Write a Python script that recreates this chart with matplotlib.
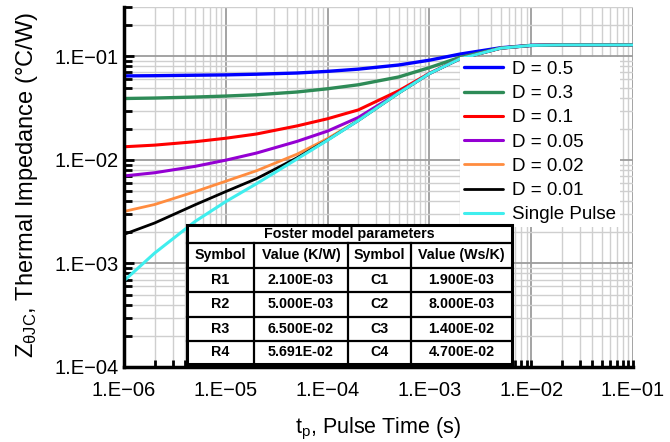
import numpy as np
import matplotlib
matplotlib.use("Agg")
import matplotlib.pyplot as plt
from matplotlib.ticker import LogLocator, NullFormatter, FixedLocator, FixedFormatter
from matplotlib.patches import Rectangle
from matplotlib.lines import Line2D

plt.rcParams['font.family'] = ['Liberation Sans', 'DejaVu Sans']
plt.rcParams['mathtext.fontset'] = 'custom'
plt.rcParams['mathtext.rm'] = 'Liberation Sans'
plt.rcParams['mathtext.it'] = 'Liberation Sans:italic'

# pulse width (s)
t_p = [1e-6, 2e-6, 5e-6, 1e-5, 2e-5, 5e-5, 1e-4, 2e-4, 5e-4,
       1e-3, 2e-3, 5e-3, 1e-2, 2e-2, 5e-2, 1e-1]

# transient thermal impedance (°C/W) per duty cycle
z_d05 = [0.0648, 0.0651, 0.0658, 0.0663, 0.0673, 0.0691, 0.0717, 0.0753, 0.0826,
         0.0919, 0.1053, 0.1212, 0.1277, 0.1289, 0.1290, 0.1290]
z_d03 = [0.0392, 0.0396, 0.0405, 0.0414, 0.0426, 0.0453, 0.0487, 0.0532, 0.0633,
         0.0779, 0.0980, 0.1201, 0.1277, 0.1290, 0.1290, 0.1290]
z_d01 = [0.0134, 0.0139, 0.0150, 0.0162, 0.0178, 0.0213, 0.0250, 0.0304, 0.0466,
         0.0687, 0.0949, 0.1200, 0.1277, 0.1290, 0.1290, 0.1290]
z_d005 = [0.00700, 0.00752, 0.00867, 0.00995, 0.01165, 0.0151, 0.0190, 0.0257, 0.0446,
          0.0682, 0.0949, 0.1200, 0.1277, 0.1290, 0.1290, 0.1290]
z_d002 = [0.00318, 0.00371, 0.00494, 0.00623, 0.00786, 0.01136, 0.0161, 0.0241, 0.0443,
          0.0682, 0.0949, 0.1200, 0.1277, 0.1290, 0.1290, 0.1290]
z_d001 = [0.00191, 0.00246, 0.00369, 0.00495, 0.00659, 0.01047, 0.0156, 0.0240, 0.0443,
          0.0682, 0.0949, 0.1200, 0.1277, 0.1290, 0.1290, 0.1290]
z_single = [0.00068, 0.00126, 0.00255, 0.00396, 0.00589, 0.0102, 0.0155, 0.0240, 0.0443,
            0.0682, 0.0949, 0.1200, 0.1277, 0.1290, 0.1290, 0.1290]

labels = ['D = 0.5', 'D = 0.3', 'D = 0.1', 'D = 0.05', 'D = 0.02', 'D = 0.01', 'Single Pulse']
colors = ['#0000ff', '#2e8b57', '#ff0000', '#9400d3', '#ff8c3f', '#000000', '#40eeee']
widths = [2.4, 2.4, 2.2, 2.2, 2.0, 2.0, 2.2]

xtick_vals = [1e-6, 1e-5, 1e-4, 1e-3, 1e-2, 1e-1]
xtick_labels = ['1.E\u221206', '1.E\u221205', '1.E\u221204', '1.E\u221203', '1.E\u221202', '1.E\u221201']
ytick_vals = [1e-4, 1e-3, 1e-2, 1e-1]
ytick_labels = ['1.E\u221204', '1.E\u221203', '1.E\u221202', '1.E\u221201']

# Foster network table
table_title = 'Foster model parameters'
table_header = ['Symbol', 'Value (K/W)', 'Symbol', 'Value (Ws/K)']
r_names = ['R1', 'R2', 'R3', 'R4']
r_values = ['2.100E-03', '5.000E-03', '6.500E-02', '5.691E-02']
c_names = ['C1', 'C2', 'C3', 'C4']
c_values = ['1.900E-03', '8.000E-03', '1.400E-02', '4.700E-02']

W, H = 670, 442
fig = plt.figure(figsize=(W / 100, H / 100), dpi=100)
ax = fig.add_axes([124 / W, 1 - 367 / H, (633 - 124) / W, (367 - 7) / H])

series = [z_d05, z_d03, z_d01, z_d005, z_d002, z_d001, z_single]
for z, lab, c, lw in zip(series, labels, colors, widths):
    ax.plot(t_p, z, color=c, lw=lw, label=lab, solid_capstyle='round')

ax.set_xscale('log')
ax.set_yscale('log')
ax.set_xlim(1e-6, 1e-1)
ax.set_ylim(1e-4, 0.3)

ax.xaxis.set_major_locator(FixedLocator(xtick_vals))
ax.xaxis.set_major_formatter(FixedFormatter(xtick_labels))
ax.yaxis.set_major_locator(FixedLocator(ytick_vals))
ax.yaxis.set_major_formatter(FixedFormatter(ytick_labels))
ax.xaxis.set_minor_locator(LogLocator(base=10, subs=np.arange(2, 10), numticks=20))
ax.yaxis.set_minor_locator(LogLocator(base=10, subs=np.arange(2, 10), numticks=20))
ax.xaxis.set_minor_formatter(NullFormatter())
ax.yaxis.set_minor_formatter(NullFormatter())

ax.grid(which='major', color='#9c9c9c', lw=1.3)
ax.grid(which='minor', color='#cfcfcf', lw=1.0)
ax.set_axisbelow(True)

for s in ['top', 'right']:
    ax.spines[s].set_visible(False)
for s in ['left', 'bottom']:
    ax.spines[s].set_linewidth(2.5)
    ax.spines[s].set_zorder(5)

ax.tick_params(which='both', direction='in', width=2, labelsize=14.5)
ax.tick_params(which='major', length=7)
ax.tick_params(which='minor', length=6)
ax.tick_params(axis='x', which='both', length=5, pad=10)
ax.tick_params(axis='y', which='both', pad=4)

ax.set_xlabel(r'$\mathregular{t_p}$, Pulse Time (s)', fontsize=15.5, va='top')
ax.xaxis.set_label_coords(0.5, (367 - 416) / 360)
ax.set_ylabel(r'$\mathregular{Z_{θJC}}$, Thermal Impedance (°C/W)', fontsize=17)
ax.yaxis.set_label_coords((40 - 124) / 509, 0.506)

leg = ax.legend(loc='upper left', bbox_to_anchor=(460 / W, 1 - 57 / H),
                bbox_transform=fig.transFigure, fontsize=13.5, frameon=True,
                fancybox=False, edgecolor='none', facecolor='white', framealpha=1,
                handlelength=2.1, handletextpad=0.5, labelspacing=0.38,
                borderpad=0.2, borderaxespad=0)
leg.set_zorder(6)


# table drawn in pixel coordinates on top of the plot
def fx(px):
    return px / W


def fy(py):
    return 1 - py / H


row_edges = [225, 243, 268, 292, 317, 341, 364]
col_edges = [187, 254, 348, 411, 512]
fig.add_artist(Rectangle((fx(col_edges[0]), fy(row_edges[-1])),
                         fx(col_edges[-1]) - fx(col_edges[0]),
                         fy(row_edges[0]) - fy(row_edges[-1]),
                         transform=fig.transFigure, facecolor='white',
                         edgecolor='black', lw=2.2, zorder=10))
for ry in row_edges[1:-1]:
    fig.add_artist(Line2D([fx(col_edges[0]), fx(col_edges[-1])], [fy(ry), fy(ry)],
                          transform=fig.transFigure, color='black', lw=1.6, zorder=11))
for cx in col_edges[1:-1]:
    fig.add_artist(Line2D([fx(cx), fx(cx)], [fy(row_edges[1]), fy(row_edges[-1])],
                          transform=fig.transFigure, color='black', lw=1.6, zorder=11))

tkw = dict(transform=fig.transFigure, ha='center', va='center', fontsize=10.3,
           fontweight='bold', zorder=12)
fig.text(fx((col_edges[0] + col_edges[-1]) / 2), fy((row_edges[0] + row_edges[1]) / 2),
         table_title, **tkw)
rows = [table_header] + [list(r) for r in zip(r_names, r_values, c_names, c_values)]
for i, row in enumerate(rows):
    yc = fy((row_edges[i + 1] + row_edges[i + 2]) / 2)
    for j, cell in enumerate(row):
        fig.text(fx((col_edges[j] + col_edges[j + 1]) / 2), yc, cell, **tkw)

fig.savefig('out.png', dpi=100)
